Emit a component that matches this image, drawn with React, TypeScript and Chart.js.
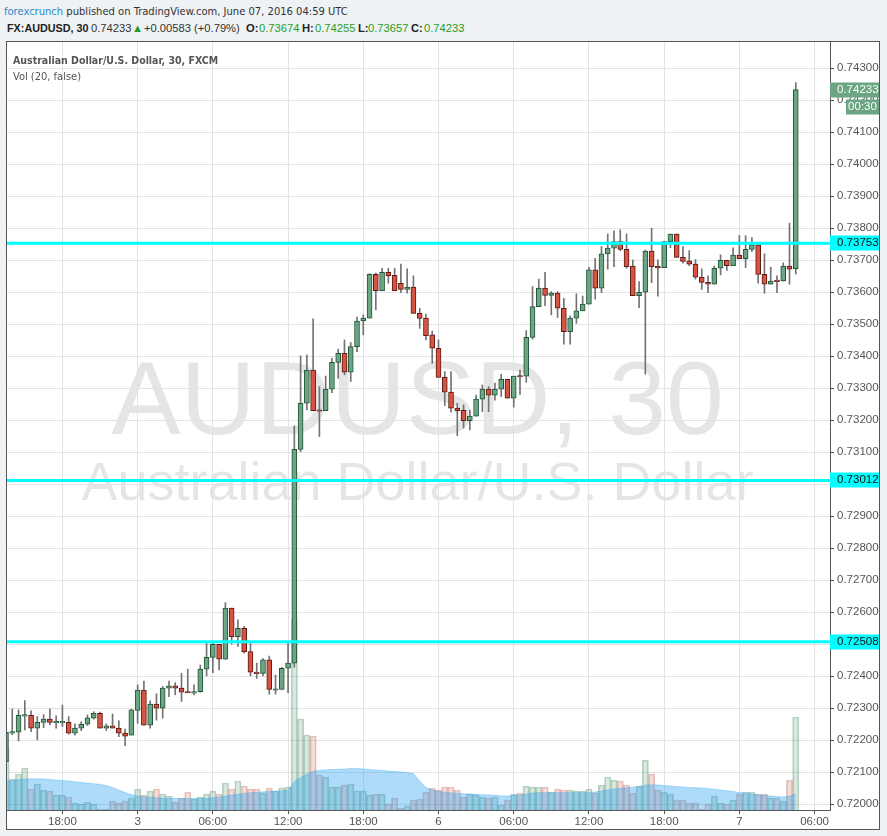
import React, { useEffect, useRef } from "react";
import { Chart, registerables } from "chart.js";

Chart.register(...registerables);

const FONT = '"Liberation Sans", Arial, Helvetica, sans-serif';
const UI_FONT = '"DejaVu Sans Condensed", "Liberation Sans", Arial, sans-serif';

// 30-minute candles, index 0 = June 2 13:30 UTC ... index 126 = June 7 04:30 UTC
const opens = [
  0.72133, 0.72224, 0.72225, 0.72277, 0.72278, 0.72238, 0.72256, 0.72266, 0.72256, 0.72256,
  0.72256, 0.72222, 0.72238, 0.7225, 0.72269, 0.72284, 0.72238, 0.72245, 0.72238, 0.72222,
  0.72216, 0.72293, 0.72357, 0.72247, 0.72313, 0.723, 0.72363, 0.7237, 0.72363, 0.72352,
  0.72349, 0.72352, 0.72422, 0.72459, 0.725, 0.72453, 0.72613, 0.72524, 0.7255, 0.72477,
  0.72413, 0.72409, 0.72451, 0.72358, 0.72359, 0.72425, 0.72441, 0.73109, 0.73253, 0.73357,
  0.73231, 0.7323, 0.73297, 0.73381, 0.73409, 0.7335, 0.7343, 0.7351, 0.73519, 0.73656,
  0.73605, 0.73662, 0.73653, 0.73628, 0.73609, 0.73616, 0.73534, 0.73519, 0.73467, 0.73425,
  0.73334, 0.73288, 0.73238, 0.73231, 0.73199, 0.73213, 0.73266, 0.73297, 0.73278, 0.73297,
  0.73328, 0.73269, 0.73338, 0.73338, 0.73459, 0.73555, 0.73613, 0.7359, 0.73597, 0.7355,
  0.73477, 0.73519, 0.73542, 0.73563, 0.7367, 0.73613, 0.7372, 0.73738, 0.73758, 0.73734,
  0.73682, 0.73589, 0.736, 0.73729, 0.73682, 0.73677, 0.73758, 0.73782, 0.73709, 0.73698,
  0.73688, 0.73647, 0.73631, 0.73625, 0.73675, 0.737, 0.73683, 0.73716, 0.73705, 0.73734,
  0.73748, 0.73656, 0.73625, 0.73636, 0.73635, 0.73682, 0.73674,
];
const highs = [
  0.72228, 0.72298, 0.72295, 0.72324, 0.72292, 0.72274, 0.7228, 0.72298, 0.72276, 0.7231,
  0.72274, 0.72251, 0.72258, 0.72279, 0.72289, 0.72288, 0.72251, 0.72282, 0.72261, 0.72235,
  0.72297, 0.72373, 0.72385, 0.72323, 0.72345, 0.72368, 0.72385, 0.7238, 0.72409, 0.72422,
  0.72373, 0.72435, 0.72503, 0.72508, 0.725, 0.7263, 0.72613, 0.72576, 0.72556, 0.72503,
  0.72441, 0.72455, 0.72463, 0.72404, 0.72428, 0.72503, 0.73182, 0.73401, 0.73404, 0.73517,
  0.73305, 0.73338, 0.73394, 0.73422, 0.73451, 0.73443, 0.73522, 0.73529, 0.73658, 0.7366,
  0.73675, 0.73675, 0.73675, 0.73688, 0.73673, 0.73651, 0.7355, 0.73532, 0.73479, 0.73451,
  0.73352, 0.73352, 0.73253, 0.73248, 0.73232, 0.73279, 0.7331, 0.73305, 0.73316, 0.73344,
  0.73328, 0.73338, 0.73357, 0.7348, 0.73618, 0.73641, 0.73662, 0.73602, 0.73602, 0.73581,
  0.73526, 0.73595, 0.73588, 0.73678, 0.73706, 0.73743, 0.73782, 0.73792, 0.73795, 0.73782,
  0.73701, 0.73633, 0.73732, 0.738, 0.73701, 0.73758, 0.73782, 0.73782, 0.73743, 0.7373,
  0.73702, 0.73673, 0.73651, 0.73682, 0.73717, 0.737, 0.73739, 0.73777, 0.73777, 0.73771,
  0.73748, 0.7372, 0.73678, 0.73651, 0.73692, 0.73816, 0.74255,
];
const lows = [
  0.72125, 0.72217, 0.72198, 0.72232, 0.72227, 0.72201, 0.72239, 0.72248, 0.72238, 0.72243,
  0.72219, 0.72216, 0.7223, 0.72246, 0.72266, 0.72238, 0.7223, 0.72238, 0.72211, 0.72183,
  0.72216, 0.72253, 0.72247, 0.72238, 0.72263, 0.72269, 0.72336, 0.72342, 0.72321, 0.72348,
  0.72342, 0.7235, 0.72401, 0.72411, 0.7242, 0.72453, 0.725, 0.72493, 0.72472, 0.72401,
  0.72393, 0.72401, 0.72344, 0.72344, 0.72359, 0.72349, 0.72428, 0.73102, 0.73232, 0.7323,
  0.73149, 0.7323, 0.73286, 0.73331, 0.73342, 0.73321, 0.73414, 0.73467, 0.73519, 0.73545,
  0.73605, 0.73628, 0.73605, 0.73599, 0.73597, 0.73534, 0.73487, 0.73451, 0.73378, 0.73334,
  0.73246, 0.73225, 0.73152, 0.73175, 0.7317, 0.73213, 0.73227, 0.73227, 0.73263, 0.73274,
  0.73269, 0.73241, 0.73281, 0.73319, 0.73453, 0.73555, 0.73558, 0.73529, 0.73521, 0.73438,
  0.73438, 0.73503, 0.73542, 0.73563, 0.73578, 0.73599, 0.73672, 0.7368, 0.7373, 0.73675,
  0.73589, 0.73552, 0.73344, 0.7363, 0.73588, 0.73677, 0.73739, 0.73709, 0.73691, 0.73683,
  0.73641, 0.73609, 0.73599, 0.73625, 0.73654, 0.73668, 0.73683, 0.73705, 0.73677, 0.73727,
  0.73628, 0.73597, 0.73625, 0.73599, 0.73635, 0.73625, 0.73657,
];
const closes = [
  0.72225, 0.72225, 0.72278, 0.72278, 0.72238, 0.72256, 0.72266, 0.72256, 0.72257, 0.72257,
  0.72222, 0.72238, 0.7225, 0.7227, 0.72284, 0.72238, 0.72245, 0.72238, 0.72222, 0.72213,
  0.72295, 0.72357, 0.72247, 0.72313, 0.723, 0.72363, 0.7237, 0.72363, 0.7235, 0.72348,
  0.7235, 0.72422, 0.72459, 0.725, 0.72453, 0.72613, 0.72524, 0.7255, 0.72477, 0.72413,
  0.72408, 0.72451, 0.72359, 0.72359, 0.72425, 0.72441, 0.73109, 0.73253, 0.73357, 0.7323,
  0.7323, 0.73297, 0.73381, 0.73409, 0.7335, 0.7343, 0.7351, 0.73519, 0.73656, 0.73605,
  0.73662, 0.73652, 0.73605, 0.73609, 0.73616, 0.73534, 0.73518, 0.73464, 0.73425, 0.73334,
  0.73288, 0.73238, 0.7323, 0.73199, 0.73213, 0.73266, 0.73297, 0.73278, 0.73297, 0.73328,
  0.73269, 0.73338, 0.73337, 0.73459, 0.73555, 0.73613, 0.7359, 0.73597, 0.7355, 0.73477,
  0.73519, 0.73542, 0.73563, 0.7367, 0.73613, 0.7372, 0.73738, 0.73758, 0.73734, 0.7368,
  0.73589, 0.736, 0.73729, 0.7368, 0.73676, 0.73758, 0.73782, 0.73709, 0.73696, 0.73688,
  0.73647, 0.73631, 0.73625, 0.73675, 0.737, 0.73683, 0.73716, 0.73705, 0.73734, 0.73748,
  0.73656, 0.73625, 0.73635, 0.73635, 0.73682, 0.73672, 0.74233,
];
const volumes = [
  620, 310, 360, 420, 210, 260, 200, 190, 150, 150,
  130, 70, 60, 80, 60, 10, 10, 90, 70, 90,
  120, 210, 150, 190, 210, 160, 140, 80, 120, 180,
  110, 130, 160, 190, 160, 270, 210, 290, 240, 210,
  210, 170, 220, 190, 220, 230, 1910, 910, 750, 740,
  350, 330, 230, 230, 250, 260, 190, 190, 150, 160,
  160, 60, 120, 20, 40, 100, 110, 180, 220, 200,
  230, 230, 200, 130, 160, 150, 130, 120, 130, 50,
  100, 160, 170, 240, 230, 230, 230, 180, 210, 200,
  200, 190, 190, 210, 170, 250, 330, 300, 290, 250,
  170, 240, 500, 360, 200, 180, 160, 100, 100, 70,
  70, 10, 60, 140, 70, 60, 100, 160, 180, 180,
  160, 160, 120, 120, 90, 300, 930,
];
// Vol (20) moving average as drawn
const volumeMA = [
  285, 295, 305, 310, 313, 313, 310, 305, 300, 295,
  290, 283, 275, 270, 263, 257, 245, 225, 200, 175,
  155, 140, 133, 128, 123, 120, 117, 115, 115, 115,
  115, 115, 118, 123, 130, 140, 150, 157, 165, 173,
  178, 182, 185, 188, 192, 197, 285, 325, 360, 385,
  398, 402, 405, 407, 410, 415, 415, 410, 405, 400,
  395, 390, 385, 380, 375, 365, 290, 225, 200, 185,
  178, 173, 168, 163, 160, 157, 153, 150, 147, 142,
  140, 145, 150, 160, 170, 173, 173, 173, 173, 173,
  173, 173, 173, 175, 180, 190, 200, 210, 217, 223,
  228, 235, 250, 253, 250, 245, 240, 235, 230, 225,
  223, 220, 215, 208, 200, 193, 185, 175, 168, 160,
  153, 147, 140, 135, 130, 140, 163,
];
const xTickIndex = [9, 21, 33, 45, 57, 69, 81, 93, 105, 117, 129];
const xTickLabels = ["18:00", "3", "06:00", "12:00", "18:00", "6", "06:00", "12:00", "18:00", "7", "06:00"];
const priceTicks = [
  0.72, 0.721, 0.722, 0.723, 0.724, 0.725, 0.726, 0.727, 0.728, 0.729, 0.73, 0.731,
  0.732, 0.733, 0.734, 0.735, 0.736, 0.737, 0.738, 0.739, 0.74, 0.741, 0.742, 0.743,
];
const levelLines = [0.73753, 0.73012, 0.72508];
const lastPrice = 0.74233;
const countdown = "00:30";

const UP_FILL = "#6ba583";
const UP_LINE = "#225437";
const DOWN_FILL = "#d75442";
const DOWN_LINE = "#5b1a13";
const WICK = "#737375";

export default function App() {
  const canvasRef = useRef<HTMLCanvasElement | null>(null);

  useEffect(() => {
    document.body.style.margin = "0";
    const canvas = canvasRef.current;
    if (!canvas) return;
    const idx = opens.map((_, i) => i);
    const isUp = idx.map((i) => closes[i] >= opens[i]);
    const bodies = idx.map((i) => {
      const lo = Math.min(opens[i], closes[i]);
      const hi = Math.max(opens[i], closes[i]);
      if (hi - lo < 0.00003) {
        const m = (hi + lo) / 2;
        return { x: i, y: [m - 0.000024, m + 0.000024] };
      }
      return { x: i, y: [lo, hi] };
    });
    const wicks = idx.map((i) => ({ x: i, y: [lows[i], highs[i]] }));
    const vols = idx.map((i) => ({ x: i, y: volumes[i] }));
    const ma = idx.map((i) => ({ x: i, y: volumeMA[i] }));

    const watermark = {
      id: "watermark",
      beforeDraw(chart: any) {
        const { ctx, chartArea } = chart;
        const cx = (chartArea.left + chartArea.right) / 2 - 1;
        ctx.save();
        ctx.fillStyle = "rgba(0,0,0,0.1)";
        ctx.textAlign = "center";
        ctx.textBaseline = "alphabetic";
        ctx.font = `104px ${FONT}`;
        ctx.fillText("AUDUSD, 30", cx, chartArea.top + 392);
        ctx.font = `54px ${FONT}`;
        ctx.fillText("Australian Dollar/U.S. Dollar", cx, chartArea.top + 458);
        ctx.restore();
      },
    };

    const levels = {
      id: "levels",
      afterDatasetsDraw(chart: any) {
        const { ctx, chartArea } = chart;
        const ys = chart.scales.y;
        ctx.save();
        ctx.beginPath();
        ctx.rect(chartArea.left, chartArea.top, chartArea.right - chartArea.left, chartArea.bottom - chartArea.top);
        ctx.clip();
        ctx.strokeStyle = "#00ffff";
        ctx.lineWidth = 3;
        levelLines.forEach((lv) => {
          const y = ys.getPixelForValue(lv);
          ctx.beginPath();
          ctx.moveTo(chartArea.left, y);
          ctx.lineTo(chartArea.right, y);
          ctx.stroke();
        });
        ctx.restore();
      },
      afterDraw(chart: any) {
        const { ctx, chartArea, width } = chart;
        const ys = chart.scales.y;
        const left = chartArea.right;
        const w = width - left;
        ctx.save();
        ctx.font = `11.5px ${FONT}`;
        ctx.textBaseline = "middle";
        const box = (y: number, text: string, bg: string, fg: string, x0: number, bw: number, align: string) => {
          ctx.fillStyle = bg;
          ctx.fillRect(x0, Math.round(y) - 7.5, bw, 15);
          ctx.fillStyle = fg;
          ctx.textAlign = align;
          ctx.fillText(text, align === "center" ? x0 + bw / 2 : x0 + 7, Math.round(y));
        };
        levelLines.forEach((lv) => box(ys.getPixelForValue(lv), lv.toFixed(5), "#00ffff", "#111", left, w, "left"));
        const yl = ys.getPixelForValue(lastPrice);
        box(yl, lastPrice.toFixed(5), UP_FILL, "#ffffff", left, w, "left");
        box(yl + 17, countdown, UP_FILL, "#ffffff", left + 16, w - 16, "center");
        ctx.restore();
      },
    };

    const tickFont = { family: FONT, size: 11.5 };
    const chart = new Chart(canvas, {
      type: "bar",
      data: {
        datasets: [
          {
            type: "bar",
            data: bodies as any,
            yAxisID: "y",
            backgroundColor: idx.map((i) => (isUp[i] ? UP_FILL : DOWN_FILL)),
            borderColor: idx.map((i) => (isUp[i] ? UP_LINE : DOWN_LINE)),
            borderWidth: 1,
            borderSkipped: false,
            barThickness: 5,
            grouped: false,
            clip: 0,
            order: 0,
          } as any,
          {
            type: "bar",
            data: wicks as any,
            yAxisID: "y",
            backgroundColor: WICK,
            borderWidth: 0,
            barThickness: 1,
            grouped: false,
            clip: 0,
            order: 1,
          } as any,
          {
            type: "line",
            data: ma as any,
            yAxisID: "yv",
            fill: "origin",
            backgroundColor: "rgba(40,160,240,0.38)",
            borderColor: "rgba(40,160,240,0.3)",
            borderWidth: 1,
            pointRadius: 0,
            tension: 0,
            clip: 0,
            order: 2,
          } as any,
          {
            type: "bar",
            data: vols as any,
            yAxisID: "yv",
            backgroundColor: idx.map((i) => (isUp[i] ? "rgba(107,165,131,0.25)" : "rgba(215,84,66,0.2)")),
            borderColor: idx.map((i) => (isUp[i] ? "rgba(60,130,90,0.35)" : "rgba(170,70,60,0.3)")),
            borderWidth: { top: 1, left: 1, right: 1, bottom: 0 },
            borderSkipped: false,
            barPercentage: 1,
            categoryPercentage: 1,
            grouped: false,
            clip: 0,
            order: 3,
          } as any,
        ],
      },
      options: {
        responsive: false,
        animation: false,
        events: [],
        layout: { padding: 0 },
        plugins: { legend: { display: false }, tooltip: { enabled: false } },
        scales: {
          x: {
            type: "linear",
            position: "bottom",
            min: 0.16,
            max: 131.46,
            offset: false,
            afterBuildTicks: (s: any) => {
              s.ticks = xTickIndex.map((v) => ({ value: v }));
            },
            afterFit: (s: any) => {
              s.height = 19;
              s.paddingLeft = 0;
              s.paddingRight = 0;
            },
            ticks: {
              autoSkip: false,
              maxRotation: 0,
              padding: 1,
              color: "#555",
              font: tickFont,
              callback: (v: any) => {
                const k = xTickIndex.indexOf(Number(v));
                return k >= 0 ? xTickLabels[k] : "";
              },
            },
            grid: { color: "#e3e3e3", tickColor: "#555", tickLength: 4, offset: false },
            border: { color: "#555" },
          } as any,
          y: {
            type: "linear",
            position: "right",
            min: 0.71982,
            max: 0.74382,
            beginAtZero: false,
            afterBuildTicks: (s: any) => {
              s.ticks = priceTicks.map((v) => ({ value: v }));
            },
            afterFit: (s: any) => {
              s.width = 49;
              s.paddingTop = 0;
              s.paddingBottom = 0;
            },
            ticks: {
              autoSkip: false,
              padding: 3,
              color: "#555",
              font: tickFont,
              callback: (v: any) => Number(v).toFixed(5),
            },
            grid: { color: "#e3e3e3", tickColor: "#555", tickLength: 4 },
            border: { color: "#555" },
          } as any,
          yv: {
            type: "linear",
            display: false,
            min: 0,
            max: 7680,
          },
        },
      },
      plugins: [watermark, levels],
    });
    return () => chart.destroy();
  }, []);

  const green = "#1f9e1f";
  const hdr: React.CSSProperties = {
    position: "absolute",
    top: 21,
    fontFamily: FONT,
    fontSize: 11.2,
    lineHeight: "14px",
    whiteSpace: "nowrap",
    color: "#333",
  };

  return (
    <div
      style={{
        position: "relative",
        width: 887,
        height: 836,
        background: "#eff2f5",
        fontFamily: FONT,
        overflow: "hidden",
      }}
    >
      <div style={{ position: "absolute", left: 4, top: 5, fontFamily: UI_FONT, fontSize: 11.1, lineHeight: "14px", color: "#333", whiteSpace: "nowrap" }}>
        <span style={{ color: "#2a88c5" }}>forexcrunch</span> published on TradingView.com, June 07, 2016 04:59 UTC
      </div>
      <div style={{ ...hdr, left: 7, fontWeight: "bold", color: "#222", fontSize: 10.8 }}>FX:AUDUSD, 30</div>
      <div style={{ ...hdr, left: 91 }}>0.74233</div>
      <div style={{ ...hdr, left: 132, color: green }}>▲</div>
      <div style={{ ...hdr, left: 144 }}>+0.00583 (+0.79%)</div>
      <div style={{ ...hdr, left: 246, fontWeight: "bold", color: "#222" }}>O:</div>
      <div style={{ ...hdr, left: 259, color: green }}>0.73674</div>
      <div style={{ ...hdr, left: 302, fontWeight: "bold", color: "#222" }}>H:</div>
      <div style={{ ...hdr, left: 315, color: green }}>0.74255</div>
      <div style={{ ...hdr, left: 358, fontWeight: "bold", color: "#222" }}>L:</div>
      <div style={{ ...hdr, left: 368, color: green }}>0.73657</div>
      <div style={{ ...hdr, left: 411, fontWeight: "bold", color: "#222" }}>C:</div>
      <div style={{ ...hdr, left: 424, color: green }}>0.74233</div>

      <div
        style={{
          position: "absolute",
          left: 6,
          top: 41,
          width: 872,
          height: 787,
          border: "1px solid #555",
          background: "#ffffff",
        }}
      >
        <canvas ref={canvasRef} width={872} height={787} style={{ position: "absolute", left: 0, top: 0, width: 872, height: 787 }} />
        <div style={{ position: "absolute", left: 6, top: 11, fontFamily: UI_FONT, fontSize: 10.5, lineHeight: "14px", fontWeight: "bold", color: "#555", whiteSpace: "nowrap" }}>
          Australian Dollar/U.S. Dollar, 30, FXCM
        </div>
        <div style={{ position: "absolute", left: 6, top: 28, fontFamily: UI_FONT, fontSize: 11, lineHeight: "14px", color: "#555", whiteSpace: "nowrap" }}>
          Vol (20, false)
        </div>
      </div>
    </div>
  );
}
